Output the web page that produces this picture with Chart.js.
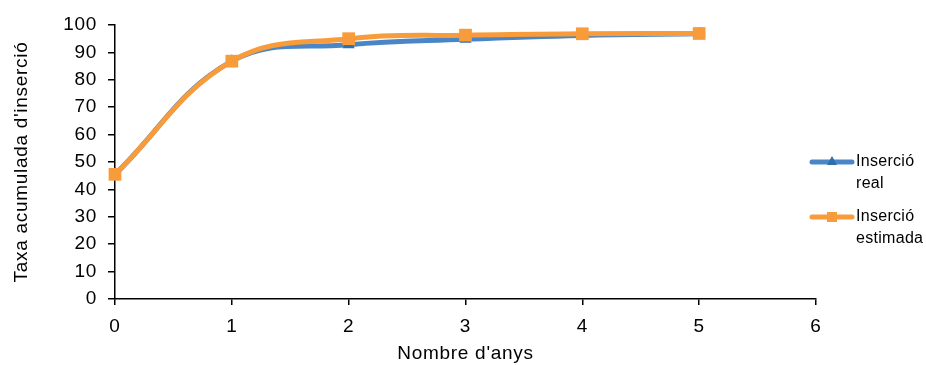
<!DOCTYPE html>
<html lang="ca">
<head>
    <meta charset="UTF-8">
    <title>Taxa acumulada d'inserció</title>
    <script src="https://cdn.jsdelivr.net/npm/chart.js"></script>
    <style>
        html, body { margin: 0; padding: 0; background: #fff; }
        #wrap { width: 926px; height: 365px; }
    </style>
</head>
<body>
    <div id="wrap"><canvas id="grafica"></canvas></div>
    <script>
        // dades llegides del gràfic
        const anys = [0, 1, 2, 3, 4, 5];
        const insercioReal = [45.5, 86.8, 92.8, 94.8, 96.2, 96.8];
        const insercioEstimada = [45.5, 86.8, 95.0, 96.3, 96.8, 96.9];
        const noms = ['Inserció real', 'Inserció estimada'];

        const blau = '#4a86c5';
        const taronja = '#f79b3b';
        const font = { family: '"Liberation Sans", Arial, sans-serif', size: 19 };
        const espaiat = '0.7px';

        const punts = (ys) => anys.map((x, i) => ({ x: x, y: ys[i] }));

        // el text de l'original és una mica més ample
        const espaiLletres = {
            id: 'espaiLletres',
            beforeUpdate(chart) { chart.ctx.letterSpacing = espaiat; },
            beforeDraw(chart) { chart.ctx.letterSpacing = espaiat; }
        };

        // llegenda dibuixada a mà (text en dues línies)
        const llegenda = {
            id: 'llegenda',
            afterDraw(chart) {
                const c = chart.ctx;
                const items = [
                    { color: blau, estil: 'triangle', text: ['Inserció', 'real'], y: 162 },
                    { color: taronja, estil: 'rect', text: ['Inserció', 'estimada'], y: 217 }
                ];
                c.save();
                c.letterSpacing = '0.3px';
                items.forEach(it => {
                    c.strokeStyle = it.color;
                    c.lineWidth = 5;
                    c.lineCap = 'round';
                    c.beginPath();
                    c.moveTo(812, it.y);
                    c.lineTo(852, it.y);
                    c.stroke();
                    c.fillStyle = it.estil === 'triangle' ? '#2e6faf' : taronja;
                    c.beginPath();
                    if (it.estil === 'triangle') {
                        c.moveTo(832, it.y - 6);
                        c.lineTo(837, it.y + 3);
                        c.lineTo(827, it.y + 3);
                    } else {
                        c.rect(827, it.y - 5, 10, 10);
                    }
                    c.closePath();
                    c.fill();
                    c.fillStyle = '#000';
                    c.font = '16px "Liberation Sans", Arial, sans-serif';
                    c.textBaseline = 'middle';
                    c.fillText(it.text[0], 856, it.y);
                    c.fillText(it.text[1], 856, it.y + 22);
                });
                c.restore();
            }
        };

        const ctx = document.getElementById('grafica').getContext('2d');
        new Chart(ctx, {
            type: 'line',
            data: {
                datasets: [{
                    label: noms[0],
                    data: punts(insercioReal),
                    borderColor: blau,
                    backgroundColor: '#2e6faf',
                    borderWidth: 5,
                    pointStyle: 'triangle',
                    pointRadius: 7,
                    pointBorderWidth: 0,
                    tension: 0.4,
                    clip: false,
                    order: 1
                }, {
                    label: noms[1],
                    data: punts(insercioEstimada),
                    borderColor: taronja,
                    backgroundColor: taronja,
                    borderWidth: 5,
                    pointStyle: 'rect',
                    pointRadius: 9,
                    pointBorderWidth: 0,
                    tension: 0.4,
                    clip: false,
                    order: 0
                }]
            },
            options: {
                responsive: true,
                maintainAspectRatio: false,
                animation: false,
                layout: { padding: { left: 10, right: 110, top: 25, bottom: 0 } },
                plugins: {
                    legend: { display: false },
                    tooltip: { enabled: false }
                },
                scales: {
                    x: {
                        type: 'linear',
                        min: 0,
                        max: 6,
                        ticks: { stepSize: 1, color: '#000', font: font, padding: 10 },
                        grid: { drawOnChartArea: false, color: '#000', tickLength: 6, lineWidth: 1.5 },
                        border: { color: '#000', width: 1.5 },
                        title: { display: true, text: "Nombre d'anys", color: '#000', font: font, padding: { top: 4, bottom: 0 } },
                        afterFit(scale) { scale.height = 66; }
                    },
                    y: {
                        min: 0,
                        max: 100,
                        ticks: { stepSize: 10, color: '#000', font: font, padding: 11 },
                        grid: { drawOnChartArea: false, color: '#000', tickLength: 7, lineWidth: 1.5 },
                        border: { color: '#000', width: 1.5 },
                        title: { display: true, text: "Taxa acumulada d'inserció", color: '#000', font: font, padding: { top: 0, bottom: 4 } },
                        afterFit(scale) { scale.width = 105; }
                    }
                }
            },
            plugins: [espaiLletres, llegenda]
        });
    </script>
</body>
</html>
